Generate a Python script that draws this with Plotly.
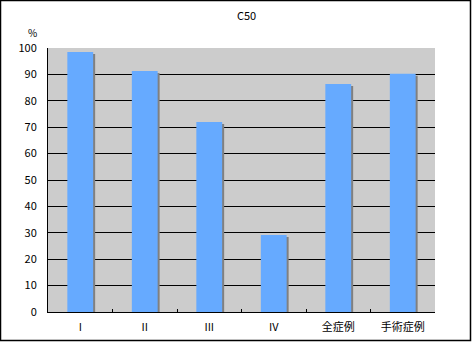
import plotly.graph_objects as go

categories = ["I", "II", "III", "IV", "全症例", "手術症例"]
values = [98.5, 91.3, 72.0, 29.2, 86.4, 90.2]
y_ticks = [0, 10, 20, 30, 40, 50, 60, 70, 80, 90, 100]
title_text = "C50"
unit_text = "%"

W, H = 472, 342
ml, mr, mt, mb = 48, 37, 48, 30
pw, ph = W - ml - mr, H - mt - mb

font = "Noto Sans CJK JP, Liberation Sans, sans-serif"
bar_w = 0.4
cat_per_px = len(categories) / pw
val_per_px = 100.0 / ph

fig = go.Figure()
# shadow
fig.add_trace(go.Bar(
    x=categories, y=[v - 2 * val_per_px for v in values],
    width=bar_w, offset=-bar_w / 2 + 2 * cat_per_px,
    marker=dict(color="#808080", line=dict(width=0)),
    hoverinfo="skip", showlegend=False,
))
fig.add_trace(go.Bar(
    x=categories, y=values,
    width=bar_w, offset=-bar_w / 2,
    marker=dict(color="#66aaff", line=dict(width=0)),
    showlegend=False,
))

fig.update_layout(
    width=W, height=H,
    margin=dict(l=ml, r=mr, t=mt, b=mb, pad=0, autoexpand=False),
    paper_bgcolor="white", plot_bgcolor="#cccccc",
    barmode="overlay",
    font=dict(family=font, size=11, color="black"),
    xaxis=dict(
        type="category", showgrid=False, showline=True, linecolor="black", linewidth=1,
        ticks="inside", tickson="boundaries", ticklen=3, tickcolor="black",
        tickfont=dict(size=11), ticklabelstandoff=5, fixedrange=True, automargin=False,
    ),
    yaxis=dict(
        range=[0, 100], tickvals=y_ticks, showgrid=True, gridcolor="black", gridwidth=1,
        showline=True, linecolor="black", linewidth=1, ticks="", zeroline=False,
        tickfont=dict(size=11), ticklabelstandoff=8, automargin=False,
    ),
    annotations=[
        dict(text=title_text, xref="paper", yref="paper",
             x=(246 - ml) / pw, y=1 + (mt - 15) / ph, showarrow=False,
             xanchor="center", yanchor="middle", font=dict(size=11)),
        dict(text=unit_text, xref="paper", yref="paper",
             x=(32 - ml) / pw, y=1 + (mt - 32) / ph, showarrow=False,
             xanchor="center", yanchor="middle", font=dict(size=10)),
    ],
    shapes=[
        dict(type="rect", xref="paper", yref="paper",
             x0=(0.5 - ml) / pw, x1=(470.5 - ml) / pw,
             y0=1 + (mt - 340.5) / ph, y1=1 + (mt - 0.5) / ph,
             line=dict(color="black", width=1.5), fillcolor="rgba(0,0,0,0)", layer="above"),
    ],
)

fig.write_html("out.html")
